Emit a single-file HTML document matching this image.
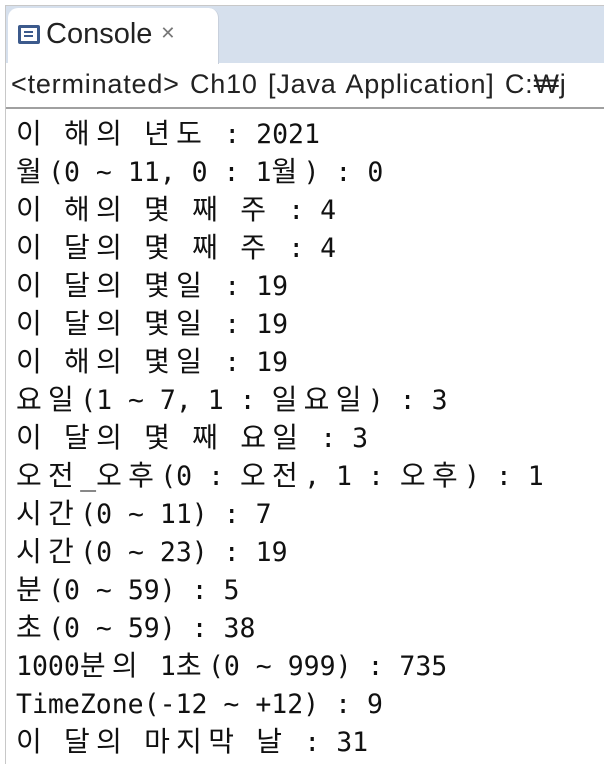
<!DOCTYPE html>
<html><head><meta charset="utf-8">
<style>
html,body{margin:0;padding:0;background:#fff;width:604px;height:764px;overflow:hidden;}
.frame{position:absolute;left:5px;top:5px;width:599px;height:759px;border-left:1px solid #c8c8c8;border-top:1px solid #c8c8c8;box-sizing:border-box;}
.tabbar{position:absolute;left:6px;top:6px;width:598px;height:57px;background:#d6e0ed;}
.tab{position:absolute;left:8px;top:8px;width:210px;height:56px;background:#fff;border-radius:10px 10px 0 0;border-right:1px solid #c8d0dc;}
.tabtitle{position:absolute;left:18px;top:18px;font:29px "Liberation Sans","Noto Sans CJK KR",sans-serif;color:#222;}
.icon{display:inline-block;width:22px;height:19px;border:3px solid #3c5a8c;border-radius:2px;box-sizing:border-box;vertical-align:-1px;margin-right:6px;position:relative;background:#fff;}
.icon:after{content:"";position:absolute;left:3px;top:3px;width:9px;height:2px;background:#3c5a8c;box-shadow:0 4px 0 #3c5a8c;}
.close{font-size:18px;color:#777;margin-left:8px;vertical-align:4px;}
.status{position:absolute;left:11px;top:69px;font:27px "Liberation Sans","Noto Sans CJK KR",sans-serif;color:#222;white-space:nowrap;letter-spacing:0.8px;word-spacing:2px;}
.sline{position:absolute;left:6px;top:107px;width:598px;height:2px;background:#a0a0a0;}
.out{position:absolute;left:16px;top:116px;font:26.5px "DejaVu Sans Mono","Liberation Mono","Noto Sans CJK KR",monospace;color:#111;white-space:pre;}
.out div{height:38px;line-height:38px;overflow:visible;}
.k{font-family:"Noto Sans CJK KR","NanumGothic",sans-serif;font-size:28px;letter-spacing:6.3px;line-height:0;}
</style></head><body>
<div class="frame"></div>
<div class="tabbar"></div>
<div class="tab"></div>
<div class="tabtitle"><span class="icon"></span>Console<span class="close">✕</span></div>
<div class="status">&lt;terminated&gt; Ch10 [Java Application] C:₩j</div>
<div class="sline"></div>
<div class="out" id="out"><div>이 해의 년도 : 2021</div><div>월(0 ~ 11, 0 : 1월) : 0</div><div>이 해의 몇 째 주 : 4</div><div>이 달의 몇 째 주 : 4</div><div>이 달의 몇일 : 19</div><div>이 달의 몇일 : 19</div><div>이 해의 몇일 : 19</div><div>요일(1 ~ 7, 1 : 일요일) : 3</div><div>이 달의 몇 째 요일 : 3</div><div>오전_오후(0 : 오전, 1 : 오후) : 1</div><div>시간(0 ~ 11) : 7</div><div>시간(0 ~ 23) : 19</div><div>분(0 ~ 59) : 5</div><div>초(0 ~ 59) : 38</div><div>1000분의 1초(0 ~ 999) : 735</div><div>TimeZone(-12 ~ +12) : 9</div><div>이 달의 마지막 날 : 31</div></div>
<script>
var o=document.getElementById('out');
o.innerHTML=o.innerHTML.replace(/([\uAC00-\uD7A3]+)/g,'<span class="k">$1</span>');
</script>
</body></html>
